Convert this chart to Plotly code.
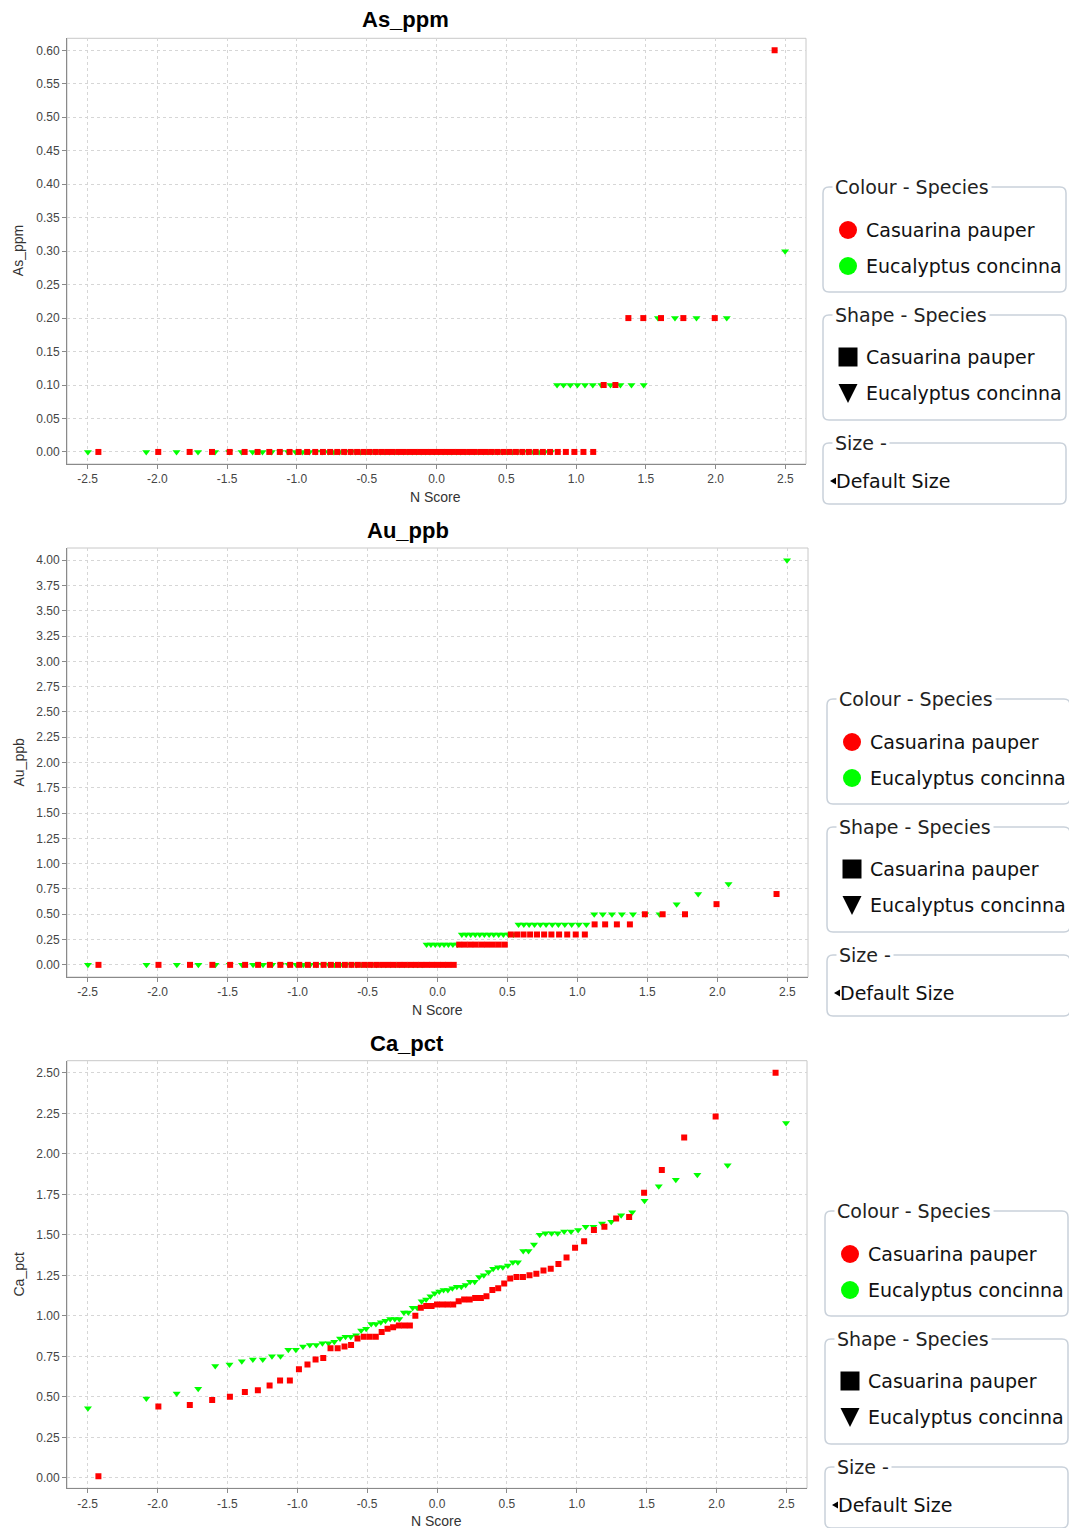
import plotly.graph_objects as go

# ---------------- data ----------------
species = ["Casuarina pauper", "Eucalyptus concinna"]

# normal scores (N Score) of the ranked samples
red_nscore = [-2.423, -1.994, -1.769, -1.609, -1.482, -1.375, -1.282, -1.198, -1.123, -1.053,
              -0.988, -0.927, -0.869, -0.814, -0.762, -0.711, -0.662, -0.615, -0.569, -0.524,
              -0.481, -0.438, -0.396, -0.354, -0.314, -0.273, -0.234, -0.194, -0.155, -0.116,
              -0.077, -0.039, 0.000, 0.039, 0.077, 0.116, 0.155, 0.194, 0.234, 0.273,
              0.314, 0.354, 0.396, 0.438, 0.481, 0.524, 0.569, 0.615, 0.662, 0.711,
              0.762, 0.814, 0.869, 0.927, 0.988, 1.053, 1.123, 1.198, 1.282, 1.375,
              1.482, 1.609, 1.769, 1.994, 2.423]
green_nscore = [-2.498, -2.080, -1.863, -1.709, -1.587, -1.485, -1.397, -1.318, -1.247, -1.181,
                -1.120, -1.064, -1.010, -0.959, -0.910, -0.864, -0.820, -0.776, -0.735, -0.694,
                -0.655, -0.617, -0.579, -0.543, -0.507, -0.471, -0.437, -0.402, -0.369, -0.335,
                -0.302, -0.270, -0.237, -0.205, -0.174, -0.142, -0.110, -0.078, -0.047, -0.016,
                0.016, 0.047, 0.078, 0.110, 0.142, 0.174, 0.205, 0.237, 0.270, 0.302,
                0.335, 0.369, 0.402, 0.437, 0.471, 0.507, 0.543, 0.579, 0.617, 0.655,
                0.694, 0.735, 0.776, 0.820, 0.864, 0.910, 0.959, 1.010, 1.064, 1.120,
                1.181, 1.247, 1.318, 1.397, 1.485, 1.587, 1.709, 1.863, 2.080, 2.498]

red_as = [0.0, 0.0, 0.0, 0.0, 0.0, 0.0, 0.0, 0.0, 0.0, 0.0,
          0.0, 0.0, 0.0, 0.0, 0.0, 0.0, 0.0, 0.0, 0.0, 0.0,
          0.0, 0.0, 0.0, 0.0, 0.0, 0.0, 0.0, 0.0, 0.0, 0.0,
          0.0, 0.0, 0.0, 0.0, 0.0, 0.0, 0.0, 0.0, 0.0, 0.0,
          0.0, 0.0, 0.0, 0.0, 0.0, 0.0, 0.0, 0.0, 0.0, 0.0,
          0.0, 0.0, 0.0, 0.0, 0.0, 0.0, 0.0, 0.1, 0.1, 0.2,
          0.2, 0.2, 0.2, 0.2, 0.6]
green_as = [0.0, 0.0, 0.0, 0.0, 0.0, 0.0, 0.0, 0.0, 0.0, 0.0,
            0.0, 0.0, 0.0, 0.0, 0.0, 0.0, 0.0, 0.0, 0.0, 0.0,
            0.0, 0.0, 0.0, 0.0, 0.0, 0.0, 0.0, 0.0, 0.0, 0.0,
            0.0, 0.0, 0.0, 0.0, 0.0, 0.0, 0.0, 0.0, 0.0, 0.0,
            0.0, 0.0, 0.0, 0.0, 0.0, 0.0, 0.0, 0.0, 0.0, 0.0,
            0.0, 0.0, 0.0, 0.0, 0.0, 0.0, 0.0, 0.0, 0.0, 0.0,
            0.0, 0.0, 0.0, 0.0, 0.1, 0.1, 0.1, 0.1, 0.1, 0.1,
            0.1, 0.1, 0.1, 0.1, 0.1, 0.2, 0.2, 0.2, 0.2, 0.3]

red_au = [0.0, 0.0, 0.0, 0.0, 0.0, 0.0, 0.0, 0.0, 0.0, 0.0,
          0.0, 0.0, 0.0, 0.0, 0.0, 0.0, 0.0, 0.0, 0.0, 0.0,
          0.0, 0.0, 0.0, 0.0, 0.0, 0.0, 0.0, 0.0, 0.0, 0.0,
          0.0, 0.0, 0.0, 0.0, 0.0, 0.0, 0.2, 0.2, 0.2, 0.2,
          0.2, 0.2, 0.2, 0.2, 0.2, 0.3, 0.3, 0.3, 0.3, 0.3,
          0.3, 0.3, 0.3, 0.3, 0.3, 0.3, 0.4, 0.4, 0.4, 0.4,
          0.5, 0.5, 0.5, 0.6, 0.7]
green_au = [0.0, 0.0, 0.0, 0.0, 0.0, 0.0, 0.0, 0.0, 0.0, 0.0,
            0.0, 0.0, 0.0, 0.0, 0.0, 0.0, 0.0, 0.0, 0.0, 0.0,
            0.0, 0.0, 0.0, 0.0, 0.0, 0.0, 0.0, 0.0, 0.0, 0.0,
            0.0, 0.0, 0.0, 0.0, 0.0, 0.0, 0.0, 0.2, 0.2, 0.2,
            0.2, 0.2, 0.2, 0.2, 0.2, 0.3, 0.3, 0.3, 0.3, 0.3,
            0.3, 0.3, 0.3, 0.3, 0.3, 0.3, 0.3, 0.4, 0.4, 0.4,
            0.4, 0.4, 0.4, 0.4, 0.4, 0.4, 0.4, 0.4, 0.4, 0.5,
            0.5, 0.5, 0.5, 0.5, 0.5, 0.5, 0.6, 0.7, 0.8, 4.0]

red_ca = [0.01, 0.44, 0.45, 0.48, 0.50, 0.53, 0.54, 0.57, 0.60, 0.60,
          0.67, 0.70, 0.73, 0.74, 0.80, 0.80, 0.81, 0.82, 0.86, 0.87,
          0.87, 0.87, 0.90, 0.92, 0.93, 0.94, 0.94, 0.94, 1.00, 1.05,
          1.06, 1.06, 1.07, 1.07, 1.07, 1.07, 1.09, 1.10, 1.10, 1.11,
          1.11, 1.12, 1.16, 1.17, 1.20, 1.23, 1.24, 1.24, 1.25, 1.26,
          1.28, 1.29, 1.32, 1.36, 1.42, 1.46, 1.53, 1.55, 1.60, 1.61,
          1.76, 1.90, 2.10, 2.23, 2.50]
green_ca = [0.43, 0.49, 0.52, 0.55, 0.69, 0.70, 0.72, 0.73, 0.73, 0.75,
            0.75, 0.79, 0.79, 0.81, 0.82, 0.82, 0.83, 0.83, 0.84, 0.86,
            0.87, 0.87, 0.88, 0.91, 0.92, 0.95, 0.95, 0.96, 0.97, 0.98,
            0.98, 0.98, 1.02, 1.02, 1.05, 1.05, 1.09, 1.10, 1.12, 1.14,
            1.15, 1.16, 1.16, 1.17, 1.18, 1.18, 1.19, 1.21, 1.21, 1.24,
            1.25, 1.27, 1.29, 1.30, 1.30, 1.31, 1.33, 1.33, 1.40, 1.40,
            1.44, 1.50, 1.51, 1.51, 1.51, 1.52, 1.52, 1.53, 1.55, 1.55,
            1.57, 1.58, 1.62, 1.64, 1.71, 1.80, 1.84, 1.87, 1.93, 2.19]

x_ticks = [-2.5, -2.0, -1.5, -1.0, -0.5, 0.0, 0.5, 1.0, 1.5, 2.0, 2.5]
x_tick_text = ["-2.5", "-2.0", "-1.5", "-1.0", "-0.5", "0.0", "0.5", "1.0", "1.5", "2.0", "2.5"]

# ---------------- layout helpers ----------------
W, H = 1069, 1528
def fx(p):
    return p / W
def fy(p):
    return 1 - p / H

RED, GREEN = "#ff0000", "#00ff00"
TICK_FONT = dict(family="Liberation Sans, Arial, sans-serif", size=12, color="#444444")
AXIS_FONT = dict(family="Liberation Sans, Arial, sans-serif", size=14, color="#333333")
LEG_FONT = dict(family="DejaVu Sans, sans-serif", size=19, color="#111111")
LEG_TITLE_FONT = dict(family="DejaVu Sans, sans-serif", size=19, color="#222222")

panels = [
    dict(var="As_ppm", red=red_as, green=green_as, dtick=0.05,
         box=(67, 806, 38.3, 464), title=(405, 20), xtitle=(435, 497), leg=(0, 0)),
    dict(var="Au_ppb", red=red_au, green=green_au, dtick=0.25,
         box=(67, 808, 548, 977), title=(408, 530), xtitle=(437, 1010), leg=(4, 512)),
    dict(var="Ca_pct", red=red_ca, green=green_ca, dtick=0.25,
         box=(67, 807, 1060.7, 1488.3), title=(407, 1043), xtitle=(436, 1521), leg=(2, 1024)),
]

fig = go.Figure()
shapes = []
annotations = []

all_x = red_nscore + green_nscore
xmin, xmax = min(all_x), max(all_x)
xpad = 0.03 * (xmax - xmin)
xrange_ = [xmin - xpad, xmax + xpad]

def rounded_rect(x0, y0, x1, y1, r):
    return (f"M {fx(x0 + r)},{fy(y0)} L {fx(x1 - r)},{fy(y0)} "
            f"Q {fx(x1)},{fy(y0)} {fx(x1)},{fy(y0 + r)} "
            f"L {fx(x1)},{fy(y1 - r)} Q {fx(x1)},{fy(y1)} {fx(x1 - r)},{fy(y1)} "
            f"L {fx(x0 + r)},{fy(y1)} Q {fx(x0)},{fy(y1)} {fx(x0)},{fy(y1 - r)} "
            f"L {fx(x0)},{fy(y0 + r)} Q {fx(x0)},{fy(y0)} {fx(x0 + r)},{fy(y0)} Z")

for i, p in enumerate(panels, start=1):
    xa = "x" if i == 1 else f"x{i}"
    ya = "y" if i == 1 else f"y{i}"
    l, r, t, b = p["box"]

    yall = p["red"] + p["green"]
    ymin, ymax = min(yall), max(yall)
    ypad = 0.03 * (ymax - ymin)

    fig.add_trace(go.Scatter(
        x=green_nscore, y=p["green"], mode="markers", xaxis=xa, yaxis=ya,
        name=species[1], showlegend=False,
        marker=dict(symbol="triangle-down", size=7, color=GREEN, line=dict(width=0))))
    fig.add_trace(go.Scatter(
        x=red_nscore, y=p["red"], mode="markers", xaxis=xa, yaxis=ya,
        name=species[0], showlegend=False,
        marker=dict(symbol="square", size=6, color=RED, line=dict(width=0))))

    axis_common = dict(showgrid=True, gridcolor="#d6d6d6", griddash="3px,3px", gridwidth=1,
                       zeroline=False, showline=True, linecolor="#8a8a8a", linewidth=1,
                       ticks="outside", ticklen=4, tickcolor="#8a8a8a", tickfont=TICK_FONT)
    fig.update_layout(**{
        ("xaxis" if i == 1 else f"xaxis{i}"): dict(
            domain=[fx(l), fx(r)], anchor=ya, range=xrange_,
            tickmode="array", tickvals=x_ticks, ticktext=x_tick_text, **axis_common),
        ("yaxis" if i == 1 else f"yaxis{i}"): dict(
            domain=[fy(b), fy(t)], anchor=xa, range=[ymin - ypad, ymax + ypad],
            tick0=0, dtick=p["dtick"], tickformat=".2f", **axis_common),
    })

    # plot outline (light) on the top/right
    shapes.append(dict(type="rect", xref="paper", yref="paper",
                       x0=fx(l), x1=fx(r), y0=fy(b), y1=fy(t),
                       line=dict(color="#c8c8c8", width=1), layer="below"))

    # titles
    annotations.append(dict(text=f"<b>{p['var']}</b>", x=fx(p["title"][0]), y=fy(p["title"][1]),
                            xref="paper", yref="paper", showarrow=False,
                            xanchor="center", yanchor="middle",
                            font=dict(family="Liberation Sans, Arial, sans-serif", size=22, color="#000000")))
    annotations.append(dict(text=p["var"], x=fx(18), y=fy((t + b) / 2), xref="paper", yref="paper",
                            showarrow=False, textangle=-90, xanchor="center", yanchor="middle",
                            font=AXIS_FONT))
    annotations.append(dict(text="N Score", x=fx(p["xtitle"][0]), y=fy(p["xtitle"][1]),
                            xref="paper", yref="paper", showarrow=False,
                            xanchor="center", yanchor="middle", font=AXIS_FONT))

    # legend panel
    dx, dy = p["leg"]
    bx0, bx1 = 823 + dx, 1066 + dx
    groups = [
        ("Colour - Species", 187, 292, [("circle", RED, 230, species[0]), ("circle", GREEN, 266, species[1])]),
        ("Shape - Species", 315, 420, [("square", "#000000", 357, species[0]), ("tri", "#000000", 393, species[1])]),
        ("Size -", 443, 504, [("arrow", "#000000", 481, "Default Size")]),
    ]
    for gtitle, gy0, gy1, entries in groups:
        shapes.append(dict(type="path", xref="paper", yref="paper",
                           path=rounded_rect(bx0, gy0 + dy, bx1, gy1 + dy, 6),
                           line=dict(color="#c9d1da", width=1.5), fillcolor="rgba(0,0,0,0)",
                           layer="above"))
        annotations.append(dict(text=gtitle, x=fx(832 + dx), y=fy(gy0 + dy), xref="paper", yref="paper",
                                showarrow=False, xanchor="left", yanchor="middle",
                                bgcolor="#ffffff", borderpad=2, font=LEG_TITLE_FONT))
        for kind, col, ey, label in entries:
            cx, cy = 848 + dx, ey + dy
            if kind == "circle":
                shapes.append(dict(type="circle", xref="paper", yref="paper",
                                   x0=fx(cx - 9), x1=fx(cx + 9), y0=fy(cy + 9), y1=fy(cy - 9),
                                   fillcolor=col, line=dict(width=0), layer="above"))
            elif kind == "square":
                shapes.append(dict(type="rect", xref="paper", yref="paper",
                                   x0=fx(cx - 9.5), x1=fx(cx + 9.5), y0=fy(cy + 9.5), y1=fy(cy - 9.5),
                                   fillcolor=col, line=dict(width=0), layer="above"))
            elif kind == "tri":
                shapes.append(dict(type="path", xref="paper", yref="paper",
                                   path=(f"M {fx(cx - 9.5)},{fy(cy - 9)} L {fx(cx + 9.5)},{fy(cy - 9)} "
                                         f"L {fx(cx)},{fy(cy + 10)} Z"),
                                   fillcolor=col, line=dict(width=0), layer="above"))
            elif kind == "arrow":
                ax = 830 + dx
                shapes.append(dict(type="path", xref="paper", yref="paper",
                                   path=(f"M {fx(ax)},{fy(cy)} L {fx(ax + 6)},{fy(cy - 3.5)} "
                                         f"L {fx(ax + 6)},{fy(cy + 3.5)} Z"),
                                   fillcolor=col, line=dict(width=0), layer="above"))
            tx = 865 + dx if kind != "arrow" else 835 + dx
            annotations.append(dict(text=label, x=fx(tx), y=fy(cy), xref="paper", yref="paper",
                                    showarrow=False, xanchor="left", yanchor="middle",
                                    borderpad=0, font=LEG_FONT))

fig.update_layout(width=W, height=H, margin=dict(l=0, r=0, t=0, b=0, pad=0),
                  paper_bgcolor="#ffffff", plot_bgcolor="#ffffff",
                  shapes=shapes, annotations=annotations, showlegend=False)

fig.write_html("out.html", config={"displayModeBar": False})
